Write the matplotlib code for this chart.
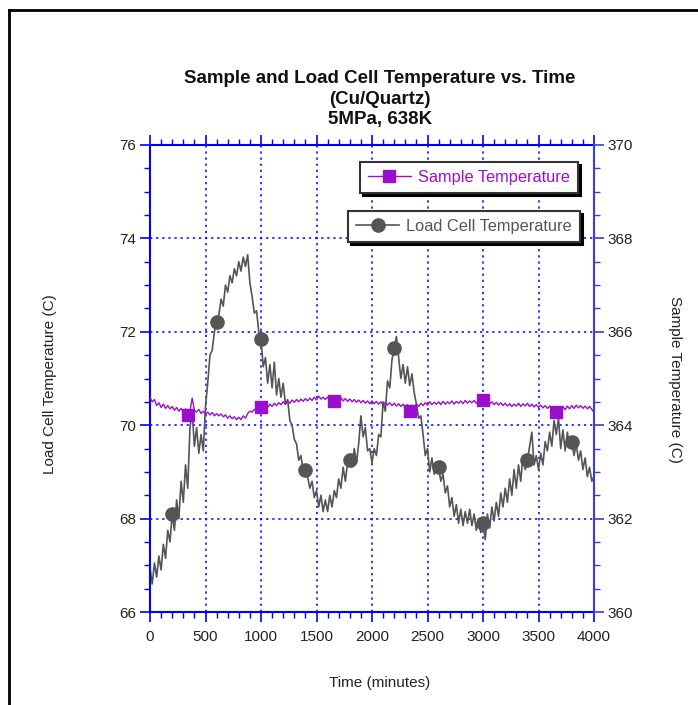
import numpy as np
import matplotlib
matplotlib.use("Agg")
import matplotlib.pyplot as plt
from matplotlib.lines import Line2D
from matplotlib.ticker import MultipleLocator

plt.rcParams['font.family'] = ['Liberation Sans', 'DejaVu Sans']

# time axis, one reading every 20 minutes
time_min = list(range(0, 4001, 20))

# load cell temperature (C), left axis
load_cell = [
    66.95, 66.60, 67.05, 66.75, 67.20, 66.90, 67.45, 67.15, 67.75, 67.50,
    68.10, 67.75, 68.40, 68.00, 68.80, 68.35, 69.15, 68.65, 69.95, 70.30,
    69.55, 69.95, 69.40, 69.80, 69.45, 70.40, 70.90, 71.50, 71.60, 72.00,
    72.20, 72.35, 72.70, 72.55, 73.00, 72.85, 73.20, 73.05, 73.35, 73.20,
    73.50, 73.30, 73.60, 73.40, 73.65, 73.05, 72.75, 72.40, 72.45, 72.00,
    71.85, 71.25, 71.45, 70.90, 71.30, 70.80, 71.35, 70.65, 71.00, 70.60,
    70.90, 70.45, 70.55, 70.10, 70.00, 69.70, 69.60, 69.25, 69.35, 69.00,
    69.05, 68.90, 68.65, 68.80, 68.45, 68.60, 68.25, 68.50, 68.15, 68.40,
    68.15, 68.50, 68.25, 68.60, 68.45, 68.85, 68.65, 69.10, 68.80, 69.20,
    69.25, 69.10, 69.50, 69.20, 69.60, 70.20, 69.75, 69.95, 69.45, 69.50,
    69.20, 69.50, 69.35, 69.80, 69.75, 70.50, 70.30, 70.95, 70.80, 71.40,
    71.65, 71.90, 71.45, 71.00, 71.30, 70.90, 71.25, 70.85, 71.10, 70.70,
    70.45, 70.15, 70.20, 69.80, 69.35, 69.50, 69.00, 69.30, 68.95, 69.20,
    69.10, 68.80, 68.95, 68.55, 68.70, 68.25, 68.45, 68.05, 68.30, 67.90,
    68.20, 67.85, 68.15, 67.90, 68.20, 67.85, 68.10, 67.75, 68.00, 67.70,
    67.90, 67.55, 68.10, 67.80, 68.25, 67.95, 68.35, 68.05, 68.55, 68.25,
    68.65, 68.35, 68.85, 68.50, 69.05, 68.65, 69.15, 68.80, 69.35, 69.05,
    69.25, 69.55, 69.85, 69.15, 69.35, 69.05, 69.40, 69.15, 69.65, 69.45,
    69.85, 69.55, 70.10, 69.80, 70.15, 69.50, 69.90, 69.45, 69.85, 69.55,
    69.65, 69.35, 69.60, 69.25, 69.45, 69.05, 69.30, 68.90, 69.10, 68.80,
    68.90,
]

# sample temperature (C), right axis
sample = [
    364.60, 364.50, 364.55, 364.42, 364.48, 364.38, 364.45, 364.36, 364.42, 364.35,
    364.40, 364.32, 364.38, 364.30, 364.36, 364.28, 364.35, 364.22, 364.30, 364.58,
    364.32, 364.28, 364.34, 364.25, 364.30, 364.24, 364.28, 364.22, 364.27, 364.20,
    364.25, 364.20, 364.24, 364.18, 364.22, 364.15, 364.20, 364.14, 364.18, 364.12,
    364.17, 364.12, 364.20, 364.15, 364.25, 364.30, 364.28, 364.34, 364.30, 364.36,
    364.39, 364.35, 364.42, 364.38, 364.45, 364.40, 364.47, 364.42, 364.48, 364.44,
    364.50, 364.45, 364.52, 364.47, 364.54, 364.49, 364.55, 364.50, 364.56, 364.51,
    364.57, 364.52, 364.58, 364.53, 364.60, 364.54, 364.62, 364.56, 364.60, 364.55,
    364.60, 364.55, 364.61, 364.52, 364.58, 364.53, 364.59, 364.52, 364.57, 364.51,
    364.56, 364.50, 364.55, 364.49, 364.54, 364.48, 364.53, 364.47, 364.52, 364.46,
    364.52, 364.46, 364.51, 364.45, 364.50, 364.44, 364.49, 364.43, 364.48, 364.42,
    364.47, 364.41, 364.46, 364.40, 364.45, 364.38, 364.44, 364.30, 364.43, 364.39,
    364.45, 364.40, 364.47, 364.42, 364.48, 364.43, 364.50, 364.44, 364.49, 364.45,
    364.50, 364.44, 364.51, 364.45, 364.50, 364.46, 364.52, 364.45, 364.51, 364.47,
    364.52, 364.46, 364.53, 364.47, 364.52, 364.48, 364.53, 364.47, 364.52, 364.49,
    364.54, 364.48, 364.52, 364.46, 364.50, 364.44, 364.49, 364.43, 364.48, 364.42,
    364.47, 364.41, 364.46, 364.40, 364.45, 364.41, 364.47, 364.40, 364.46, 364.41,
    364.47, 364.40, 364.45, 364.39, 364.44, 364.38, 364.43, 364.37, 364.42, 364.36,
    364.41, 364.35, 364.40, 364.29, 364.39, 364.34, 364.40, 364.33, 364.41, 364.35,
    364.42, 364.36, 364.43, 364.37, 364.42, 364.36, 364.41, 364.35, 364.40, 364.34,
    364.27,
]

load_marks = list(range(10, 201, 20))
sample_marks = [17, 50, 83, 117, 150, 183]

gray = '#555555'
purple = '#9a0fcc'
blue = '#0000ff'

fig = plt.figure(figsize=(6.98, 7.05), dpi=100)
ax = fig.add_axes([150/698, 1-612/705, 444/698, 467/705])
ax2 = ax.twinx()

l1, = ax.plot(time_min, load_cell, color=gray, lw=1.2, marker='o', ms=9.5,
              markevery=load_marks, mfc=gray, mec=gray,
              label='Load Cell Temperature')
l2, = ax2.plot(time_min, sample, color=purple, lw=1.0, marker='s', ms=9,
               markevery=sample_marks, mfc=purple, mec=purple,
               label='Sample Temperature')

ax.set_xlim(0, 4000)
ax.set_ylim(66, 76)
ax2.set_ylim(360, 370)
ax.xaxis.set_major_locator(MultipleLocator(500))
ax.xaxis.set_minor_locator(MultipleLocator(100))
ax.yaxis.set_major_locator(MultipleLocator(2))
ax.yaxis.set_minor_locator(MultipleLocator(0.5))
ax2.yaxis.set_major_locator(MultipleLocator(2))
ax2.yaxis.set_minor_locator(MultipleLocator(0.5))
ax.xaxis.set_ticks_position('both')

ax.grid(which='major', color=blue, linestyle=(0, (1.5, 2.5)), lw=1.1)

for a in (ax, ax2):
    a.tick_params(which='major', direction='out', length=7, width=1.2,
                  labelsize=11, labelcolor='#222222', pad=3)
    a.tick_params(which='minor', direction='out', length=4, width=1.0)
ax.tick_params(which='both', color=blue)
ax2.tick_params(which='both', color='#3c3cdc')
ax.tick_params(axis='x', pad=6)

for s in ('left', 'top', 'bottom'):
    ax.spines[s].set_color(blue)
    ax.spines[s].set_linewidth(1.5)
    ax2.spines[s].set_visible(False)
ax.spines['right'].set_visible(False)
ax2.spines['right'].set_color('#3c3cdc')
ax2.spines['right'].set_linewidth(1.5)

fig.text(380/698, 1-99/705, 'Sample and Load Cell Temperature vs. Time\n(Cu/Quartz)\n5MPa, 638K',
         ha='center', va='center', fontsize=13.5, fontweight='bold',
         linespacing=1.3, color='#111111')
fig.text(380/698, 1-683/705, 'Time (minutes)', ha='center', va='center',
         fontsize=11, color='#222222')
fig.text(50/698, 1-384/705, 'Load Cell Temperature (C)', ha='center',
         va='center', rotation=90, fontsize=11, color='#222222')
fig.text(675/698, 1-379/705, 'Sample Temperature (C)', ha='center',
         va='center', rotation=270, fontsize=11, color='#222222')

shadow = {'color': 'black', 'alpha': 1.0}
leg1 = ax2.legend(handles=[l2], loc='upper right',
                  bbox_to_anchor=(578/698, 1-162/705),
                  bbox_transform=fig.transFigure, fancybox=False,
                  shadow=shadow, framealpha=1, edgecolor='#333333',
                  fontsize=11.8, handlelength=2.6, handletextpad=0.45,
                  borderpad=0.5, borderaxespad=0, labelcolor=purple)
leg1.get_frame().set_linewidth(1.5)
ax2.add_artist(leg1)
leg2 = ax2.legend(handles=[l1], loc='upper right',
                  bbox_to_anchor=(580/698, 1-211/705),
                  bbox_transform=fig.transFigure, fancybox=False,
                  shadow=shadow, framealpha=1, edgecolor='#333333',
                  fontsize=11.8, handlelength=2.6, handletextpad=0.45,
                  borderpad=0.5, borderaxespad=0, labelcolor=gray)
leg2.get_frame().set_linewidth(1.5)

# page border lines
fig.add_artist(Line2D([9/698, 9/698], [0, 1-10/705], color='black', lw=2,
                      transform=fig.transFigure))
fig.add_artist(Line2D([9/698, 1], [1-10/705, 1-10/705], color='black', lw=2,
                      transform=fig.transFigure))

fig.savefig('out.png', dpi=100)
